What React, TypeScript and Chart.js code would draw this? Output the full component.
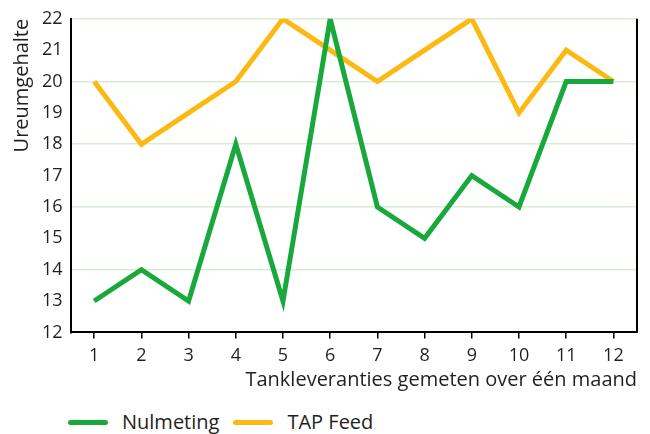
import React, { useEffect, useRef } from "react";
import { Chart, registerables } from "chart.js";

Chart.register(...registerables);

const categories = ["1", "2", "3", "4", "5", "6", "7", "8", "9", "10", "11", "12"];
const nulmeting = [13, 14, 13, 18, 13, 22, 16, 15, 17, 16, 20, 20];
const tapFeed = [20, 18, 19, 20, 22, 21, 20, 21, 22, 19, 21, 20];
const seriesNames = ["Nulmeting", "TAP Feed"];
const yTitle = "Ureumgehalte";
const xTitle = "Tankleveranties gemeten over één maand";

const GREEN = "#19a83b";
const YELLOW = "#fdb913";
const TEXT = "#231f20";
const FONT = "'Open Sans', sans-serif";

const rightBorder = {
  id: "rightBorder",
  afterDraw(chart: any) {
    const { ctx, chartArea } = chart;
    ctx.save();
    ctx.strokeStyle = "#000";
    ctx.lineWidth = 2;
    ctx.beginPath();
    ctx.moveTo(chartArea.right, chartArea.top);
    ctx.lineTo(chartArea.right, chartArea.bottom);
    ctx.stroke();
    ctx.restore();
  },
};

export default function App() {
  const ref = useRef<HTMLCanvasElement>(null);
  useEffect(() => {
    const chart = new Chart(ref.current!, {
      type: "line",
      data: {
        labels: categories,
        datasets: [
          { label: seriesNames[0], data: nulmeting, borderColor: GREEN, backgroundColor: GREEN, borderWidth: 5, pointRadius: 0, tension: 0 },
          { label: seriesNames[1], data: tapFeed, borderColor: YELLOW, backgroundColor: YELLOW, borderWidth: 5, pointRadius: 0, tension: 0 },
        ],
      },
      options: {
        animation: false,
        responsive: false,
        maintainAspectRatio: false,
        layout: { padding: { top: 9, right: 13, left: 10, bottom: 0 } },
        plugins: { legend: { display: false }, tooltip: { enabled: false } },
        scales: {
          x: {
            offset: true,
            grid: { offset: false, drawOnChartArea: false, drawTicks: true, tickLength: 6, color: "#000", lineWidth: 1.5 },
            border: { display: true, color: "#000", width: 2 },
            ticks: { color: TEXT, font: { family: FONT, size: 18 }, padding: 7, maxRotation: 0 },
            title: { display: true, text: xTitle, align: "end", color: TEXT, font: { family: FONT, size: 20 }, padding: { top: -6, bottom: 6 } },
          },
          y: {
            min: 12,
            max: 22,
            ticks: { stepSize: 1, color: TEXT, font: { family: FONT, size: 18 }, padding: 8 },
            grid: {
              drawTicks: false,
              color: (c: any) => (c.tick && c.tick.value % 2 === 0 && c.tick.value !== 12 ? "#d9ebd0" : "rgba(0,0,0,0)"),
              lineWidth: 1.5,
            },
            border: { display: true, color: "#000", width: 2 },
            title: { display: true, text: yTitle, align: "end", color: TEXT, font: { family: FONT, size: 20 }, padding: { top: 0, bottom: 0 } },
          },
        },
      },
      plugins: [rightBorder],
    });
    return () => chart.destroy();
  }, []);

  const legendItem = (color: string, label: string) => (
    <div style={{ display: "flex", alignItems: "center", marginRight: 14 }}>
      <div style={{ width: 40, height: 5, borderRadius: 3, background: color, marginRight: 14 }} />
      <span>{label}</span>
    </div>
  );

  return (
    <div style={{ position: "absolute", left: 0, top: 0, width: 650, height: 434, background: "#fff" }}>
      <canvas ref={ref} width={650} height={398} style={{ display: "block" }} />
      <div
        style={{
          position: "absolute",
          left: 68,
          top: 408,
          display: "flex",
          fontFamily: FONT,
          fontSize: 20,
          color: TEXT,
          lineHeight: "28px",
        }}
      >
        {legendItem(GREEN, seriesNames[0])}
        {legendItem(YELLOW, seriesNames[1])}
      </div>
    </div>
  );
}
